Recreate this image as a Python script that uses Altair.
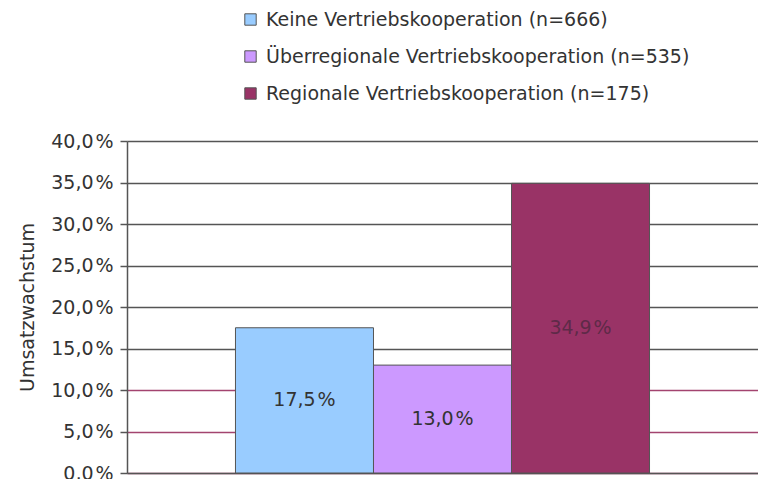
import altair as alt
import pandas as pd

categories = [
    "Keine Vertriebskooperation (n=666)",
    "Überregionale Vertriebskooperation (n=535)",
    "Regionale Vertriebskooperation (n=175)",
]
values = [17.5, 13.0, 34.9]
y_ticks = [0, 5, 10, 15, 20, 25, 30, 35, 40]

df = pd.DataFrame({"cat": categories, "value": values})

colors = ["#99CCFF", "#CC99FF", "#993366"]
FONT = "DejaVu Sans"
TXT = "#333333"
W, H = 631, 332

x_enc = alt.X(
    "cat:N",
    sort=categories,
    scale=alt.Scale(paddingInner=0, paddingOuter=0.786),
    axis=alt.Axis(labels=False, ticks=False, title=None, domainColor="#555",
                  domainWidth=1.5, grid=False),
)

fmt = "replace(format(datum.value, '.1f'), '.', ',') + '\u200a%'"

bars = alt.Chart(df).mark_bar(stroke="#555", strokeWidth=1).encode(
    x=x_enc,
    y=alt.Y(
        "value:Q",
        scale=alt.Scale(domain=[0, 40], nice=False),
        axis=alt.Axis(
            values=y_ticks,
            title="Umsatzwachstum",
            labelExpr=fmt,
            labelFont=FONT,
            labelFontSize=19,
            labelColor=TXT,
            labelPadding=7,
            tickSize=7,
            tickColor="#555",
            tickWidth=1.5,
            domainColor="#555",
            domainWidth=1.5,
            grid=True,
            gridColor={"condition": {"test": "datum.value <= 10", "value": "#a3446f"},
                       "value": "#555"},
            gridWidth=1.3,
            titleFont=FONT,
            titleFontSize=19,
            titleFontWeight="normal",
            titleColor=TXT,
            titleAngle=270,
            titleX=-100,
            titleY=H / 2,
            titleAlign="center",
            titleBaseline="middle",
        ),
    ),
    color=alt.Color(
        "cat:N",
        sort=categories,
        scale=alt.Scale(domain=categories, range=colors),
        legend=alt.Legend(
            orient="none",
            legendX=114,
            legendY=-131,
            title=None,
            symbolType="square",
            symbolSize=130,
            symbolStrokeColor="#555",
            symbolStrokeWidth=1,
            labelFont=FONT,
            labelFontSize=19,
            labelColor=TXT,
            labelOffset=6,
            rowPadding=17,
            padding=0,
            labelLimit=600,
        ),
    ),
)

text = alt.Chart(df).transform_calculate(
    mid="datum.value / 2",
    label=fmt,
).mark_text(font=FONT, fontSize=19, baseline="middle").encode(
    x=alt.X("cat:N", sort=categories),
    y=alt.Y("mid:Q"),
    text="label:N",
    color=alt.condition(
        "datum.cat == 'Regionale Vertriebskooperation (n=175)'",
        alt.value("#5e2a48"),
        alt.value(TXT),
    ),
)

chart = (
    alt.layer(bars, text)
    .properties(
        width=W,
        height=H,
        autosize=alt.AutoSizeParams(type="none"),
        padding={"left": 119, "top": 133, "right": 0, "bottom": 6},
        background="white",
    )
    .configure_view(strokeWidth=0)
)

chart.save("out.html", embed_options={"renderer": "svg", "actions": False})
